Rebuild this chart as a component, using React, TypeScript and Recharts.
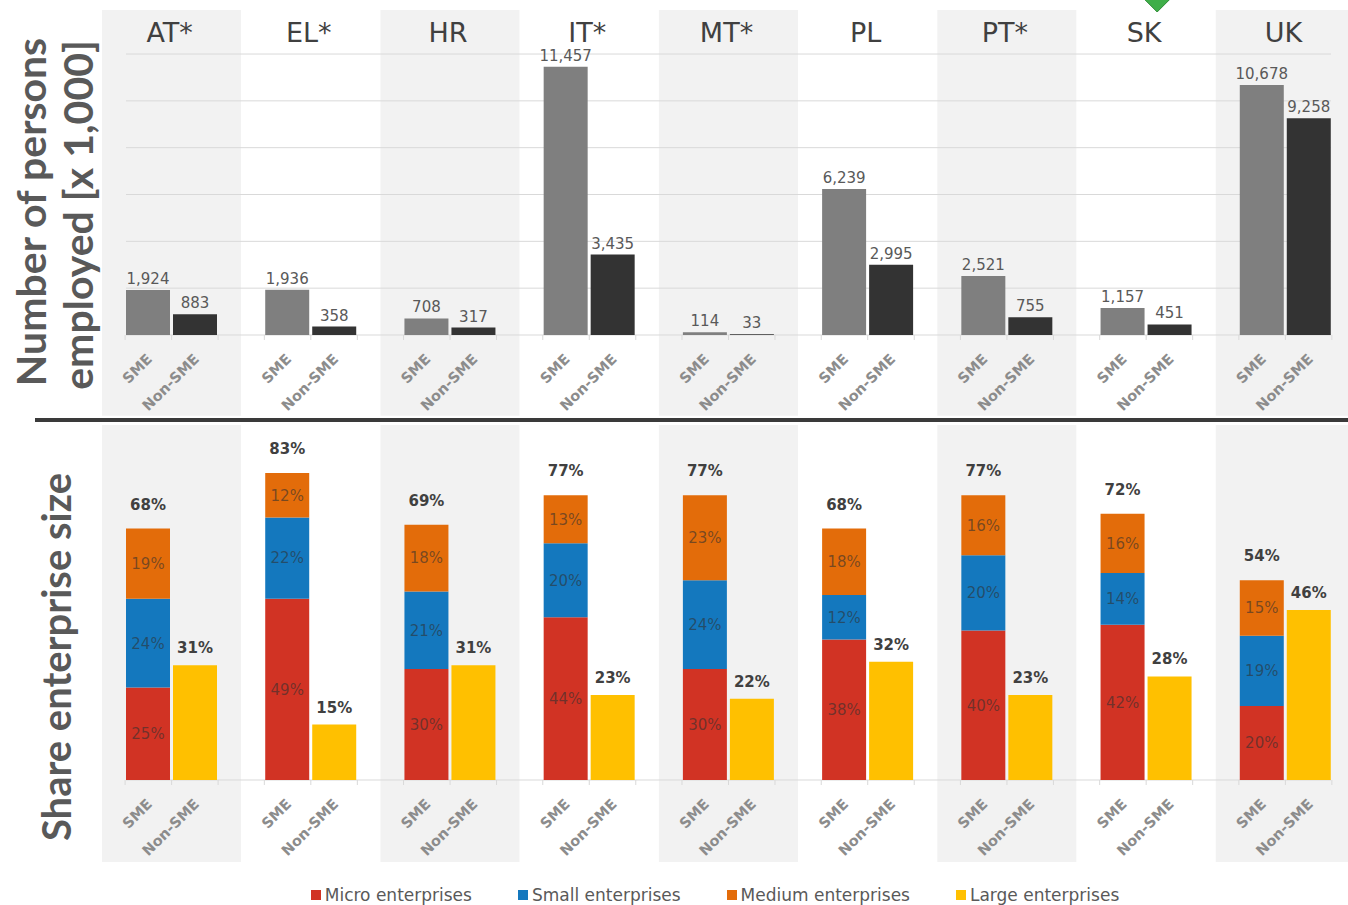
import React from 'react';
import { BarChart, Bar, XAxis, YAxis, CartesianGrid, ReferenceArea, LabelList, Legend } from 'recharts';

// ---- data ----
const countries = ['AT*', 'EL*', 'HR', 'IT*', 'MT*', 'PL', 'PT*', 'SK', 'UK'];
const shadedPanels = [true, false, true, false, true, false, true, false, true];
const smePersons = [1924, 1936, 708, 11457, 114, 6239, 2521, 1157, 10678];
const nonSmePersons = [883, 358, 317, 3435, 33, 2995, 755, 451, 9258];
const microShare = [25, 49, 30, 44, 30, 38, 40.4, 42, 20];
const smallShare = [24, 22, 21, 20, 24, 12, 20.4, 14, 19];
const mediumShare = [19, 12, 18, 13, 23, 18, 16.2, 16, 15];
const largeShare = [31, 15, 31, 23, 22, 32, 23, 28, 46];
const smeTotalShare = [68, 83, 69, 77, 77, 68, 77, 72, 54];
const personTicks = [0, 2000, 4000, 6000, 8000, 10000, 12000];
const shareTicks = [0];
const sizeLabels = ['SME', 'Non-SME'];
const seriesNames = ['Micro enterprises', 'Small enterprises', 'Medium enterprises', 'Large enterprises'];
const seriesColors = ['#d13324', '#1478be', '#e36c0a', '#ffc000'];

const personsData = countries.map((c, i) => ({ country: c, sme: smePersons[i], nonSme: nonSmePersons[i] }));
const shareData = countries.map((c, i) => ({
  country: c,
  micro: microShare[i],
  small: smallShare[i],
  medium: mediumShare[i],
  large: largeShare[i],
  total: smeTotalShare[i],
}));

// ---- styling ----
const FONT = '"DejaVu Sans", sans-serif';
const TITLE_FONT = 'Lato, "DejaVu Sans", sans-serif';
const PANEL = '#f2f2f2';
const CHART_W = 1356;
const MARGIN_L = 102;
const BAR = 44;
const GAP = 3;

const fmtThousands = (v: any) => Number(v).toLocaleString('en-US');
const fmtPct = (v: any) => `${Math.round(Number(v))}%`;

function PairTick(props: any) {
  const { x, y } = props;
  const half = (BAR + GAP) / 2;
  const edge = BAR + GAP / 2 + 1;
  return (
    <g>
      {[-edge, 0, edge].map((d) => (
        <line key={d} x1={x + d} x2={x + d} y1={y} y2={y + 5} stroke="#d9d9d9" strokeWidth={1} />
      ))}
      {sizeLabels.map((t, i) => (
        <text
          key={t}
          x={0}
          y={0}
          transform={`translate(${x + (i === 0 ? -half : half) + 5},${y + 25}) rotate(-45)`}
          textAnchor="end"
          fontSize={14.5}
          fontWeight="bold"
          fill="#8c8c8c"
          fontFamily={FONT}
        >
          {t}
        </text>
      ))}
    </g>
  );
}

function HeaderLabel(props: any) {
  const { viewBox, value } = props;
  if (!viewBox) return null;
  const cx = viewBox.x + viewBox.width / 2;
  return (
    <g>
      {value === 'SK' && (
        <polygon
          points={`${cx - 3},${viewBox.y - 12} ${cx + 25},${viewBox.y - 12} ${cx + 11},${viewBox.y + 2}`}
          fill="#3fae49"
          stroke="#2e8b36"
          strokeWidth={1}
        />
      )}
      <text x={cx - 2} y={viewBox.y + 32} textAnchor="middle" fontSize={27} fill="#404040" fontFamily={FONT}>
        {value}
      </text>
    </g>
  );
}

function ShareLegend(props: any) {
  const payload = [...(props.payload || [])].sort(
    (a: any, b: any) => seriesNames.indexOf(a.value) - seriesNames.indexOf(b.value)
  );
  return (
    <div
      style={{
        display: 'flex',
        justifyContent: 'center',
        alignItems: 'center',
        gap: 46,
        height: 24,
        fontFamily: FONT,
      }}
    >
      {payload.map((p: any) => (
        <div key={p.value} style={{ display: 'flex', alignItems: 'center' }}>
          <span style={{ display: 'inline-block', width: 10, height: 10, background: p.color, marginRight: 4 }} />
          <span style={{ color: '#595959', fontSize: 17, whiteSpace: 'nowrap' }}>{p.value}</span>
        </div>
      ))}
    </div>
  );
}

export default function App() {
  return (
    <div
      style={{
        position: 'absolute',
        left: 0,
        top: 0,
        width: 1348,
        height: 905,
        overflow: 'hidden',
        background: '#ffffff',
        fontFamily: FONT,
      }}
    >
      {/* Top: persons employed */}
      <div style={{ position: 'absolute', left: 0, top: 0 }}>
        <BarChart
          width={CHART_W}
          height={420}
          data={personsData}
          margin={{ top: 10, right: 1, bottom: 0, left: MARGIN_L }}
          barSize={BAR}
          barGap={GAP}
        >
          {countries.map((c, i) => (
            <ReferenceArea
              key={c}
              x1={c}
              x2={c}
              y1={-3450}
              y2={13880}
              ifOverflow="visible"
              fill={shadedPanels[i] ? PANEL : '#ffffff'}
              fillOpacity={1}
              stroke="none"
              zIndex={-200}
              label={{ value: c, content: HeaderLabel }}
            />
          ))}
          <CartesianGrid vertical={false} stroke="#d9d9d9" x={126} width={1205} horizontalValues={personTicks} />
          <XAxis
            dataKey="country"
            height={85}
            axisLine={false}
            tickLine={false}
            tickSize={0}
            tickMargin={0}
            interval={0}
            tick={<PairTick />}
          />
          <YAxis hide domain={[0, 13880]} ticks={personTicks} allowDataOverflow />
          <Bar dataKey="sme" name="SME" fill="#7f7f7f" isAnimationActive={false}>
            <LabelList
              dataKey="sme"
              position="top"
              offset={6}
              formatter={fmtThousands}
              fontSize={15}
              fill="#595959"
              fontFamily={FONT}
            />
          </Bar>
          <Bar dataKey="nonSme" name="Non-SME" fill="#333333" isAnimationActive={false}>
            <LabelList
              dataKey="nonSme"
              position="top"
              offset={6}
              formatter={fmtThousands}
              fontSize={15}
              fill="#595959"
              fontFamily={FONT}
            />
          </Bar>
        </BarChart>
      </div>

      {/* Bottom: share by enterprise size */}
      <div style={{ position: 'absolute', left: 0, top: 420 }}>
        <BarChart
          width={CHART_W}
          height={485}
          data={shareData}
          margin={{ top: 5, right: 1, bottom: 0, left: MARGIN_L }}
          barSize={BAR}
          barGap={GAP}
        >
          {countries.map((c, i) => (
            <ReferenceArea
              key={c}
              x1={c}
              x2={c}
              y1={-22.2}
              y2={96}
              ifOverflow="visible"
              fill={shadedPanels[i] ? PANEL : '#ffffff'}
              fillOpacity={1}
              stroke="none"
              zIndex={-200}
            />
          ))}
          <CartesianGrid vertical={false} stroke="#d9d9d9" x={126} width={1205} horizontalValues={shareTicks} />
          <XAxis
            dataKey="country"
            height={101}
            axisLine={false}
            tickLine={false}
            tickSize={0}
            tickMargin={0}
            interval={0}
            tick={<PairTick />}
          />
          <YAxis hide domain={[0, 96]} ticks={shareTicks} allowDataOverflow />
          <Legend
            verticalAlign="bottom"
            content={<ShareLegend />}
            wrapperStyle={{ left: 82, width: 1266, top: 463, bottom: 'auto', height: 24 }}
          />
          <Bar dataKey="micro" name={seriesNames[0]} stackId="sme" fill={seriesColors[0]} isAnimationActive={false}>
            <LabelList dataKey="micro" position="center" formatter={fmtPct} fontSize={15} fill="#303030" fillOpacity={0.6} fontFamily={FONT} />
          </Bar>
          <Bar dataKey="small" name={seriesNames[1]} stackId="sme" fill={seriesColors[1]} isAnimationActive={false}>
            <LabelList dataKey="small" position="center" formatter={fmtPct} fontSize={15} fill="#303030" fillOpacity={0.6} fontFamily={FONT} />
          </Bar>
          <Bar dataKey="medium" name={seriesNames[2]} stackId="sme" fill={seriesColors[2]} isAnimationActive={false}>
            <LabelList dataKey="medium" position="center" formatter={fmtPct} fontSize={15} fill="#303030" fillOpacity={0.6} fontFamily={FONT} />
            <LabelList dataKey="total" position="top" offset={19} formatter={fmtPct} fontSize={15} fontWeight="bold" fill="#404040" fontFamily={FONT} />
          </Bar>
          <Bar dataKey="large" name={seriesNames[3]} stackId="large" fill={seriesColors[3]} isAnimationActive={false}>
            <LabelList dataKey="large" position="top" offset={12} formatter={fmtPct} fontSize={15} fontWeight="bold" fill="#404040" fontFamily={FONT} />
          </Bar>
        </BarChart>
      </div>

      {/* Axis titles and separator */}
      <svg
        width={1348}
        height={905}
        style={{ position: 'absolute', left: 0, top: 0, pointerEvents: 'none' }}
      >
        <line x1={35} x2={1348} y1={420} y2={420} stroke="#3a3a3a" strokeWidth={4} />
        <text transform="translate(46,212) rotate(-90)" textAnchor="middle" fontSize={41} fontWeight="bold" fill="#595959" fontFamily={TITLE_FONT}>
          Number of persons
        </text>
        <text transform="translate(93,215) rotate(-90)" textAnchor="middle" fontSize={41} fontWeight="bold" fill="#595959" fontFamily={TITLE_FONT}>
          employed [x 1,000]
        </text>
        <text transform="translate(71,657) rotate(-90)" textAnchor="middle" fontSize={40} fontWeight="bold" fill="#595959" fontFamily={TITLE_FONT}>
          Share enterprise size
        </text>
      </svg>
    </div>
  );
}
